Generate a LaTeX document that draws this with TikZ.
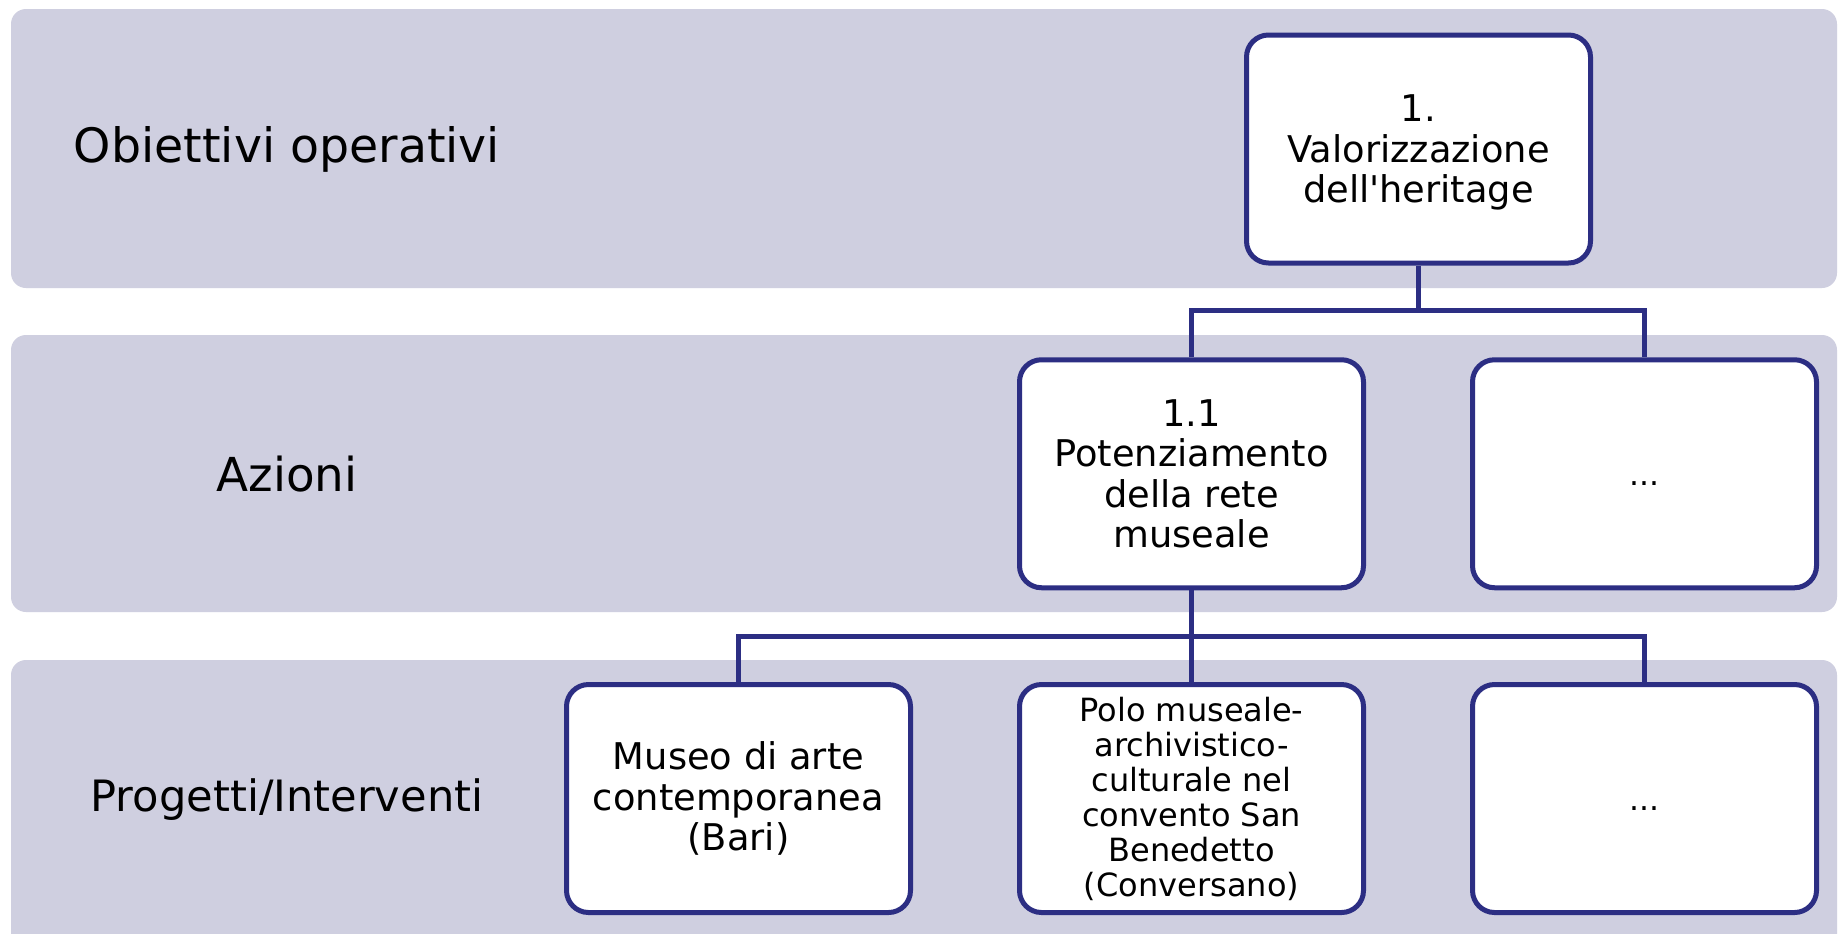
\documentclass[tikz,border=0pt]{standalone}
\usepackage{fontspec}
\setmainfont{DejaVu Sans}
\newfontfamily\plainfont{DejaVu Sans}
\definecolor{bandfill}{RGB}{207,207,224}
\definecolor{navy}{RGB}{44,46,131}
\tikzset{
  band/.style={fill=bandfill, draw=none, rounded corners=7.5pt},
  box/.style={draw=navy, fill=white, line width=2.5pt, rounded corners=11pt,
    minimum width=172pt, minimum height=114pt, inner sep=2pt, align=center,
    font=\plainfont\fontsize{18.4}{20.2}\selectfont},
  smallbox/.style={box, font=\plainfont\fontsize{16}{17.5}\selectfont},
  dotsbox/.style={box, font=\plainfont\fontsize{15.7}{17}\selectfont,
    text height=12pt, text depth=0pt},
  rowlabel/.style={anchor=center},
  conn/.style={draw=navy, line width=2.25pt}
}
\begin{document}
\begin{tikzpicture}[x=0.5pt,y=-0.5pt]
\useasboundingbox (0,0) rectangle (1838,933);
\clip (0,0) rectangle (1838,933);
\fill[white] (0,0) rectangle (1838,933);
% bands
\path[band] (11,9) rectangle (1837,288);
\path[band] (11,335) rectangle (1837,612);
\path[band] (11,660) rectangle (1837,980);
% row labels
\node[rowlabel, font=\fontsize{23.7}{26}\selectfont] (l1) at (287,149) {Obiettivi operativi};
\node[rowlabel, font=\fontsize{23.4}{26}\selectfont] (l2) at (287,474) {Azioni};
\node[rowlabel, font=\fontsize{21.6}{24}\selectfont] (l3) at (287,800) {Progetti/Interventi};
% boxes
\node[box] (A) at (1418.5,149) {\rule{0pt}{17pt}1.\\Valorizzazione\\dell'heritage};
\node[box] (B) at (1191.5,473.75) {1.1\\Potenziamento\\della rete\\museale};
\node[dotsbox] (C) at (1644.5,473.75) {...};
\node[box] (D) at (738.5,798.5) {Museo di arte\\contemporanea\\(Bari)};
\node[smallbox] (E) at (1191.5,798.5) {Polo museale-\\archivistico-\\culturale nel\\convento San\\Benedetto\\(Conversano)};
\node[dotsbox] (F) at (1644.5,798.5) {...};
% connectors
\coordinate (j1) at (1418.5,310.6);
\coordinate (j2) at (1191.5,636.5);
\draw[conn] (A.south) -- (j1);
\draw[conn] (B.north) -- (B.north |- j1) -- (C.north |- j1) -- (C.north);
\draw[conn] (B.south) -- (j2);
\draw[conn] (D.north) -- (D.north |- j2) -- (F.north |- j2) -- (F.north);
\draw[conn] (j2) -- (E.north);
\end{tikzpicture}
\end{document}
